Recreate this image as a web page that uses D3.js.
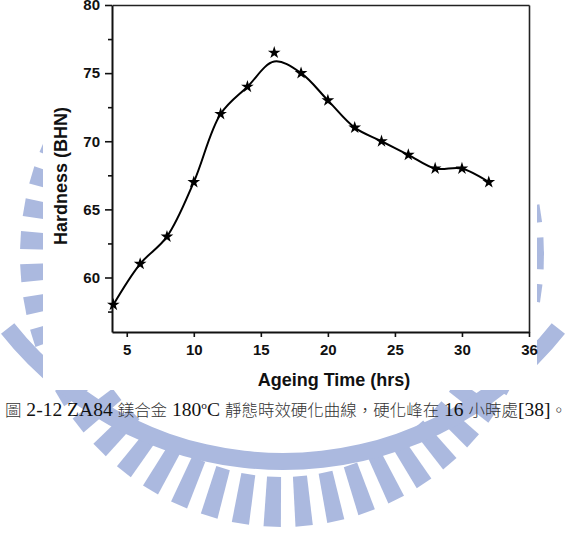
<!DOCTYPE html>
<html>
<head>
<meta charset="utf-8">
<script src="https://cdn.jsdelivr.net/npm/d3@7"></script>
<style>
  html, body { margin: 0; padding: 0; background: #fff; }
  svg { display: block; }
</style>
</head>
<body>
<div id="chart"></div>
<script>
"use strict";

const WIDTH = 571, HEIGHT = 544;

// data
var ageHours = [4, 6, 8, 10, 12, 14, 16, 18, 20, 22, 24, 26, 28, 30, 32];
var hardness = [58, 61, 63, 67, 72, 74, 76.5, 75, 73, 71, 70, 69, 68, 68, 67];
// the drawn curve is a smoothed fit, it peaks lower than the 16 h point
var fitHardness = [58, 61, 63, 67, 72, 74, 75.85, 75, 73, 71, 70, 69, 68, 68, 67];

var xTickValues = [5, 10, 15, 20, 25, 30, 35];
var xTickLabels = ["5", "10", "15", "20", "25", "30", "36"];
var yTickValues = [60, 65, 70, 75, 80];
var yMinorTicks = [57.5, 62.5, 67.5, 72.5, 77.5];

var xTitle = "Ageing Time (hrs)";
var yTitle = "Hardness (BHN)";

// caption pieces: [text, kind]
var captionParts = [
  ["圖", "cjk"], [" 2-12 ZA84 ", "lat"], ["鎂合金", "cjk"], [" 180", "lat"], ["o", "sup"],
  ["C ", "lat"], ["靜態時效硬化曲線，硬化峰在", "cjk"], [" 16 ", "lat"], ["小時處", "cjk"],
  ["[38]", "lat"], ["。", "cjk"]
];

var svg = d3.select("#chart").append("svg")
  .attr("width", WIDTH)
  .attr("height", HEIGHT);

//////////////////////////
// background watermark //
//////////////////////////

var wmColor = "#abb9df";
var wm = svg.append("g");
var wcx = 282, wcy = 255;
var ring = { rxIn: 212, ryIn: 222, rxOut: 262, ryOut: 272 };
var rayStep = 7 * Math.PI / 180, rayHalf = 1.9 * Math.PI / 180;

var rayPath = function(t) {
  var a0 = t - rayHalf, a1 = t + rayHalf;
  var p = function(rx, ry, a) { return [wcx + rx * Math.cos(a), wcy + ry * Math.sin(a)]; };
  return "M" + p(ring.rxIn, ring.ryIn, a0) + "L" + p(ring.rxOut, ring.ryOut, a0) +
    "L" + p(ring.rxOut, ring.ryOut, a1) + "L" + p(ring.rxIn, ring.ryIn, a1) + "Z";
};

wm.selectAll("path.ray")
  .data(d3.range(0, 52))
  .join("path")
  .attr("class", "ray")
  .attr("d", function(k) { return rayPath(k * rayStep + 0.02); })
  .attr("fill", wmColor);

wm.append("path")
  .attr("transform", "translate(283,110)")
  .attr("d", d3.arc()
    .innerRadius(343)
    .outerRadius(360)
    .startAngle(Math.PI - 0.9)
    .endAngle(Math.PI + 0.9)())
  .attr("fill", wmColor);

// the figure itself is an opaque white picture over the watermark
svg.append("rect")
  .attr("x", 43).attr("y", 0)
  .attr("width", 494).attr("height", 390)
  .attr("fill", "#fff");

///////////
// chart //
///////////

var xScale = d3.scaleLinear()
  .domain([3.9, 35])
  .range([112, 529]);
var yScale = d3.scaleLinear()
  .domain([56, 80])
  .range([332, 5]);

var font = "'Liberation Sans', Arial, Helvetica, sans-serif";

// frame: top and right
svg.append("g")
  .attr("transform", "translate(0,5)")
  .call(d3.axisTop(xScale).tickValues([]).tickSizeOuter(0))
  .select(".domain").attr("stroke", "#222").attr("stroke-width", 1.6);
svg.append("g")
  .attr("transform", "translate(529,0)")
  .call(d3.axisRight(yScale).tickValues([]).tickSizeOuter(0))
  .select(".domain").attr("stroke", "#222").attr("stroke-width", 1.6);

// y axis
var yAxis = svg.append("g")
  .attr("transform", "translate(112,0)")
  .call(d3.axisLeft(yScale).tickValues(yTickValues).tickSize(7).tickPadding(5).tickSizeOuter(0).tickFormat(d3.format("d")));
svg.append("g")
  .attr("transform", "translate(112,0)")
  .call(d3.axisLeft(yScale).tickValues(yMinorTicks).tickSize(4).tickFormat("").tickSizeOuter(0))
  .select(".domain").remove();

// x axis
var xAxis = svg.append("g")
  .attr("transform", "translate(0,332)")
  .call(d3.axisBottom(xScale).tickValues(xTickValues).tickSize(5).tickPadding(7).tickSizeOuter(0)
    .tickFormat(function(d, i) { return xTickLabels[i]; }));

[xAxis, yAxis].forEach(function(ax) {
  ax.select(".domain").attr("stroke", "#111").attr("stroke-width", 2);
  ax.selectAll(".tick text")
    .attr("fill", "#111")
    .style("font-family", font)
    .style("font-weight", "bold")
    .style("font-size", "15px");
});
svg.selectAll(".tick line").attr("stroke", "#111").attr("stroke-width", 1.6);

// axis titles
svg.append("text")
  .attr("x", 334)
  .attr("y", 386)
  .attr("text-anchor", "middle")
  .style("font-family", font)
  .style("font-weight", "bold")
  .style("font-size", "18px")
  .attr("fill", "#111")
  .text(xTitle);

svg.append("text")
  .attr("transform", "translate(67,176) rotate(-90)")
  .attr("text-anchor", "middle")
  .style("font-family", font)
  .style("font-weight", "bold")
  .style("font-size", "18px")
  .attr("fill", "#111")
  .text(yTitle);

// smoothed curve
var fitLine = d3.line()
  .x(function(d, i) { return xScale(ageHours[i]); })
  .y(function(d) { return yScale(d); })
  .curve(d3.curveCatmullRom.alpha(0.5));

svg.append("path")
  .datum(fitHardness)
  .attr("fill", "none")
  .attr("stroke", "#000")
  .attr("stroke-width", 2)
  .attr("d", fitLine);

// star markers
svg.selectAll("path.star")
  .data(hardness)
  .join("path")
  .attr("class", "star")
  .attr("transform", function(d, i) {
    return "translate(" + xScale(ageHours[i]) + "," + yScale(d) + ")";
  })
  .attr("d", d3.symbol(d3.symbolStar, 50))
  .attr("fill", "#000");

/////////////
// caption //
/////////////

var cap = svg.append("text")
  .attr("x", 5)
  .attr("y", 416)
  .attr("textLength", 562)
  .attr("lengthAdjust", "spacingAndGlyphs")
  .style("font-family", "'Liberation Serif', 'Times New Roman', serif")
  .style("font-size", "19px")
  .attr("fill", "#111");

var prevKind = "lat";
captionParts.forEach(function(part) {
  var t = cap.append("tspan").text(part[0]);
  if (part[1] === "cjk") {
    t.style("font-family", "'Noto Sans CJK TC', 'Noto Sans CJK SC', sans-serif")
      .style("font-size", "16px")
      .style("font-weight", "300")
      .attr("fill", "#333");
  }
  if (part[1] === "sup") {
    t.attr("dy", -7).style("font-size", "11px");
  } else if (prevKind === "sup") {
    t.attr("dy", 7);
  }
  prevKind = part[1];
});
</script>
</body>
</html>
